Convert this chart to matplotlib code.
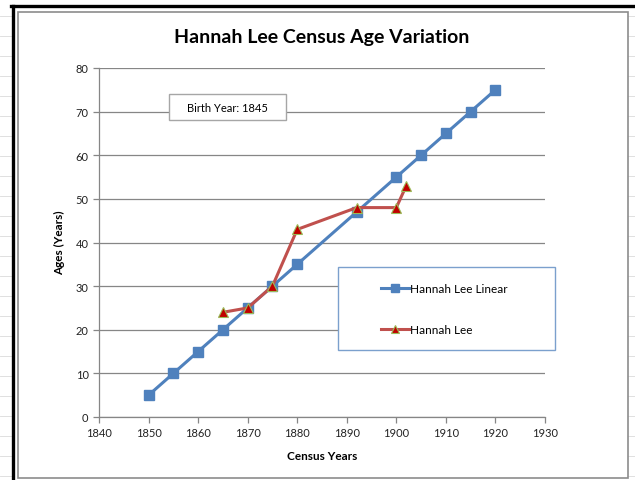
import matplotlib.pyplot as plt
from matplotlib.patches import Rectangle
from matplotlib.lines import Line2D

plt.rcParams['font.family'] = ['Lato', 'DejaVu Sans']

# census data
linear_years = [1850, 1855, 1860, 1865, 1870, 1875, 1880, 1892, 1900, 1905, 1910, 1915, 1920]
linear_ages = [5, 10, 15, 20, 25, 30, 35, 47, 55, 60, 65, 70, 75]
census_years = [1865, 1870, 1875, 1880, 1892, 1900, 1902]
census_ages = [24, 25, 30, 43, 48, 48, 53]
x_ticks = list(range(1840, 1931, 10))
y_ticks = list(range(0, 81, 10))

blue = '#4F81BD'
red = '#C0504D'
grey = '#868686'

fig = plt.figure(figsize=(6.35, 4.81), dpi=100)

# spreadsheet background grid + outer frame
for y in range(17, 481, 20):
    fig.add_artist(Line2D([0, 11 / 635], [1 - y / 481] * 2, color='#dadada', lw=0.6, zorder=-5))
    fig.add_artist(Line2D([628 / 635, 1], [1 - y / 481] * 2, color='#dadada', lw=0.6, zorder=-5))
fig.add_artist(Line2D([12.5 / 635] * 2, [0, 1 - 6.5 / 481], color='black', lw=2.4, zorder=-4))
fig.add_artist(Line2D([11 / 635, 1], [1 - 6.5 / 481] * 2, color='black', lw=2.4, zorder=-4))
fig.add_artist(Rectangle((18 / 635, 1 - 479 / 481), 610 / 635, 466 / 481,
                         transform=fig.transFigure, fc='white', ec='#8c8c8c', lw=1.2, zorder=-3))

ax = fig.add_axes([99 / 635, 1 - 418 / 481, 446 / 635, 349 / 481])
ax.set_facecolor('none')
ax.set_xlim(1840, 1930)
ax.set_ylim(0, 80)
ax.set_xticks(x_ticks)
ax.set_yticks(y_ticks)
ax.yaxis.grid(True, color=grey, lw=0.9)
ax.set_axisbelow(True)
for s in ['top', 'right']:
    ax.spines[s].set_visible(False)
for s in ['left', 'bottom']:
    ax.spines[s].set_color(grey)
    ax.spines[s].set_linewidth(0.9)
ax.tick_params(length=4, color=grey, width=0.9, labelsize=8, labelcolor='#222222')

l1, = ax.plot(linear_years, linear_ages, color=blue, lw=2.2, marker='s', ms=7.5,
              mfc=blue, mec=blue, label='Hannah Lee Linear', clip_on=False, zorder=3)
l2, = ax.plot(census_years, census_ages, color=red, lw=2.2, marker='^', ms=7,
              mfc='#C00000', mec='#9BBB59', mew=0.8, label='Hannah Lee', zorder=4)

fig.suptitle('Hannah Lee Census Age Variation', x=322 / 635, y=1 - 38 / 481,
             va='center', fontsize=14, fontweight='bold')
fig.text(322 / 635, 1 - 456 / 481, 'Census Years', ha='center', va='center',
         fontsize=8.5, fontweight='bold')
fig.text(60 / 635, 1 - 243 / 481, 'Ages (Years)', ha='center', va='center',
         rotation=90, fontsize=8.5, fontweight='bold')

# birth year box
fig.add_artist(Rectangle((169 / 635, 1 - 121 / 481), 117 / 635, 26 / 481,
                         transform=fig.transFigure, fc='white', ec='#a6a6a6', lw=1.0, zorder=5))
fig.text(227 / 635, 1 - 108 / 481, 'Birth Year: 1845', ha='center', va='center',
         fontsize=8, zorder=6)

# legend box
fig.add_artist(Rectangle((338 / 635, 1 - 351 / 481), 217 / 635, 83 / 481,
                         transform=fig.transFigure, fc='white', ec='#7BA0CD', lw=1.0, zorder=5))
leg = fig.legend(handles=[l1, l2], loc='center left',
                 bbox_to_anchor=(370 / 635, 1 - 310 / 481), frameon=False,
                 fontsize=8.5, handlelength=2.4, handletextpad=0.05, labelspacing=2.6,
                 markerscale=0.8)
leg.set_zorder(6)

fig.savefig('out.png', dpi=100)
